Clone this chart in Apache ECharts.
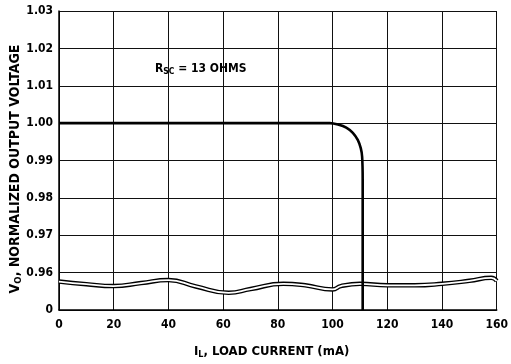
<!DOCTYPE html>
<html>
<head>
<meta charset="utf-8">
<script src="https://cdn.jsdelivr.net/npm/echarts@6/dist/echarts.min.js"></script>
<style>html,body{margin:0;padding:0;background:#fff;}#c{width:511px;height:364px;}</style>
</head>
<body>
<div id="c"></div>
<script>
// X: load current (mA)
const xTicks = [0, 20, 40, 60, 80, 100, 120, 140, 160];
// Y: normalized output voltage ticks (0.95 stands for the broken "0")
const yTickLabels = ['0', '0.96', '0.97', '0.98', '0.99', '1.00', '1.01', '1.02', '1.03'];
// Main curve (Rsc = 13 ohms)
const curveX = [0, 20, 40, 60, 80, 99, 102, 105, 107.4, 109.2, 110.3, 110.8, 111, 111];
const curveV = [1.0, 1.0, 1.0, 1.0, 1.0, 1.0, 0.9996, 0.9988, 0.9974, 0.9955, 0.9933, 0.991, 0.985, 0.95];
// Axis-break wavy double line
const breakX = [0, 10, 20, 30, 40, 50, 62, 70, 82, 90, 100, 103, 110, 120, 130, 140, 150, 158, 160];
const breakV = [0.9576, 0.9569, 0.9564, 0.9572, 0.9580, 0.9563, 0.9546, 0.9556, 0.9570, 0.9566, 0.9555, 0.9564, 0.9570, 0.9566, 0.9566, 0.9570, 0.9578, 0.9586, 0.9578];

const FONT = "'Liberation Sans Narrow', 'DejaVu Sans Condensed', 'Roboto', sans-serif";
const zip = (a, b) => a.map((v, i) => [v, b[i]]);

const chart = echarts.init(document.getElementById('c'), null, {renderer: 'canvas'});
chart.setOption({
  animation: false,
  backgroundColor: '#fff',
  grid: {left: 59, right: 4, top: 11, bottom: 54, containLabel: false},
  xAxis: {
    type: 'value', min: 0, max: 160, interval: 20,
    axisLine: {show: true, lineStyle: {color: '#000', width: 1.5}},
    axisTick: {show: false},
    splitLine: {show: true, lineStyle: {color: '#111', width: 1}},
    axisLabel: {color: '#000', fontFamily: FONT, fontWeight: 'bold', fontSize: 12, margin: 9,
      formatter: v => xTicks.includes(v) ? String(v) : ''}
  },
  yAxis: {
    type: 'value', min: 0.95, max: 1.03, interval: 0.01,
    axisLine: {show: true, lineStyle: {color: '#000', width: 1.5}},
    axisTick: {show: false},
    splitLine: {show: true, lineStyle: {color: '#111', width: 1}},
    axisLabel: {color: '#000', fontFamily: FONT, fontWeight: 'bold', fontSize: 12, margin: 6,
      formatter: v => yTickLabels[Math.round((v - 0.95) * 100)]}
  },
  series: [
    {type: 'line', data: zip(breakX, breakV), smooth: 0.5, symbol: 'none', silent: true,
     lineStyle: {color: '#000', width: 4.5}, z: 3},
    {type: 'line', data: zip(breakX, breakV), smooth: 0.5, symbol: 'none', silent: true,
     lineStyle: {color: '#fff', width: 1.8}, z: 4},
    {type: 'line', data: zip(curveX, curveV), smooth: 0.3, symbol: 'none',
     lineStyle: {color: '#000', width: 2.6}, z: 5}
  ],
  graphic: [
    {type: 'text', left: 155, top: 63, style: {
      text: '{a|R}{s|SC}{a| = 13 OHMS}',
      rich: {a: {fontFamily: FONT, fontWeight: 'bold', fontSize: 12, fill: '#000'},
             s: {fontFamily: FONT, fontWeight: 'bold', fontSize: 8.5, fill: '#000', padding: [6, 0, 0, 0]}}}},
    {type: 'text', left: 194, top: 345, style: {
      text: '{a|I}{s|L}{a|, LOAD CURRENT (mA)}',
      rich: {a: {fontFamily: FONT, fontWeight: 'bold', fontSize: 13, fill: '#000'},
             s: {fontFamily: FONT, fontWeight: 'bold', fontSize: 9, fill: '#000', padding: [7, 0, 0, 0]}}}},
    {type: 'text', x: 15, y: 169, rotation: Math.PI / 2, style: {
      text: '{a|V}{s|O}{a|, NORMALIZED OUTPUT VOLTAGE}',
      align: 'center', verticalAlign: 'middle',
      rich: {a: {fontFamily: FONT, fontWeight: 'bold', fontSize: 14, fill: '#000'},
             s: {fontFamily: FONT, fontWeight: 'bold', fontSize: 9.5, fill: '#000', padding: [7, 0, 0, 0]}}}}
  ]
});
</script>
</body>
</html>
